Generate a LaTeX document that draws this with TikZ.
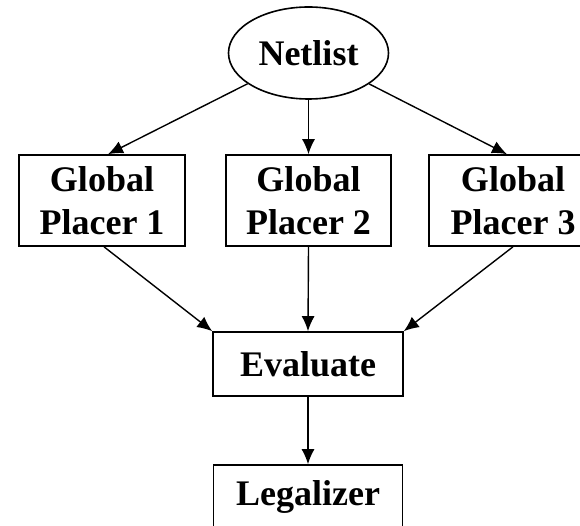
\documentclass[tikz,border=0pt]{standalone}
\usepackage{fontspec}
\setmainfont{Liberation Serif}
\usetikzlibrary{shapes.geometric,arrows.meta}
\begin{document}
\begin{tikzpicture}[x=1pt,y=-1pt,
  every node/.style={font=\fontsize{36}{43}\selectfont\bfseries, align=center, inner sep=0pt},
  boxnode/.style={draw, line width=1.6pt, rectangle},
  conn/.style={line width=1.4pt, -{Latex[length=15pt,width=13pt]}}]
\useasboundingbox (0,0) rectangle (580,526);
\clip (0,0) rectangle (580,526);
\node[draw, line width=1.6pt, ellipse, minimum width=160pt, minimum height=92pt] (net) at (308.5,53) {Netlist};
\node[boxnode, minimum width=166pt, minimum height=91pt] (gp1) at (102,200.5) {Global\\Placer 1};
\node[boxnode, minimum width=165pt, minimum height=91pt] (gp2) at (308.5,200.5) {Global\\Placer 2};
\node[boxnode, minimum width=168pt, minimum height=91pt] (gp3) at (513,200.5) {Global\\Placer 3};
\node[boxnode, minimum width=190pt, minimum height=64pt] (eval) at (308,364) {Evaluate};
\node[boxnode, minimum width=189pt, minimum height=64pt] (leg) at (308,497) {Legalizer};
\draw[conn] (net) -- ([xshift=6pt]gp1.north);
\draw[conn] (net.south) -- (gp2.north);
\draw[conn] (net) -- ([xshift=-6pt]gp3.north);
\draw[conn] ([xshift=2pt]gp1.south) -- (eval.north west);
\draw[conn] (gp2.south) -- (eval.north);
\draw[conn] (gp3.south) -- (eval.north east);
\draw[conn] (eval.south) -- (leg.north);
\end{tikzpicture}
\end{document}
